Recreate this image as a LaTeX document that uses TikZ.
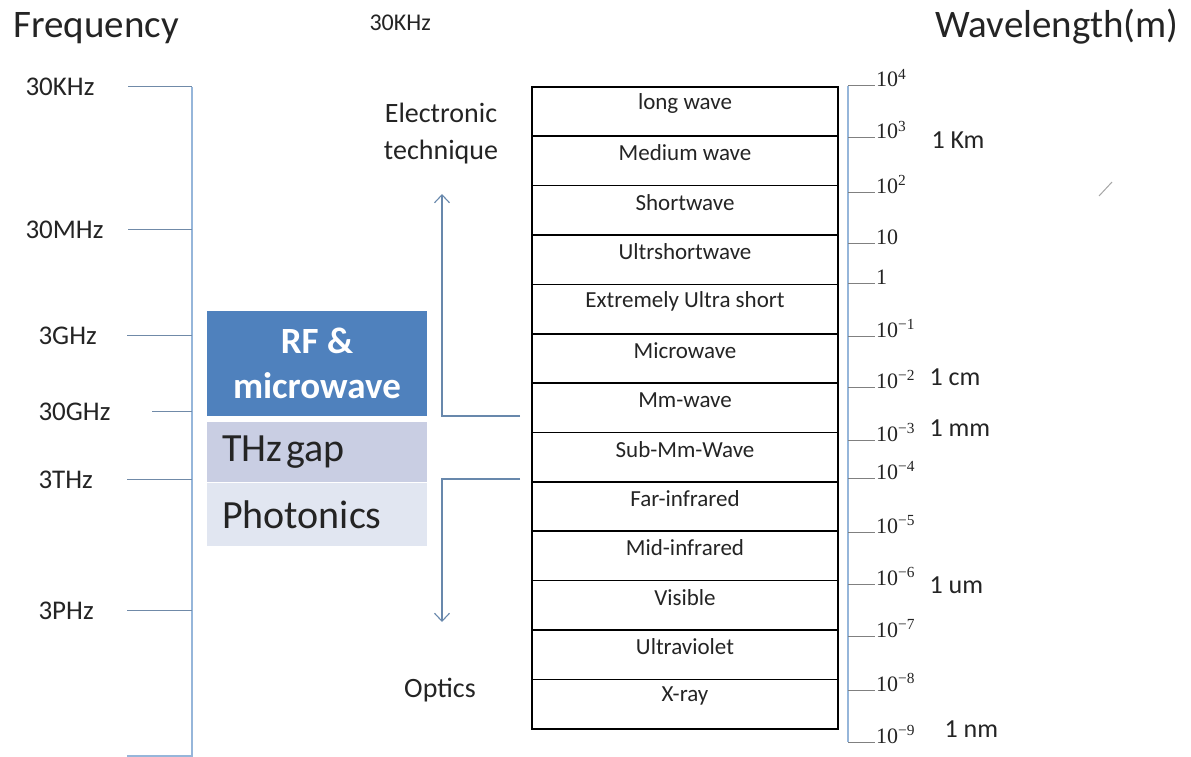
\documentclass[tikz,border=0pt]{standalone}
\usepackage{fontspec}
\setmainfont{Carlito}
\newfontfamily\expfont{Liberation Serif}
\usetikzlibrary{positioning,arrows.meta}
\definecolor{axisA}{RGB}{150,182,218}
\definecolor{tickA}{RGB}{112,138,168}
\definecolor{linkA}{RGB}{104,136,172}
\definecolor{rfblue}{RGB}{79,129,189}
\definecolor{gapfill}{RGB}{201,206,227}
\definecolor{photofill}{RGB}{225,230,241}
\definecolor{textA}{RGB}{36,36,36}
\newcommand\tenpow[1]{10\textsuperscript{#1}}

\tikzset{
  bigtitle/.style={font=\fontsize{39}{44}\selectfont},
  freqlabel/.style={anchor=base west, font=\fontsize{27}{30}\selectfont},
  freqtick/.style={tickA, line width=1pt},
  axisline/.style={axisA, line width=1.4pt},
  bandrow/.style={draw=black, line width=1.6pt, anchor=north, minimum width=306pt,
    minimum height=49.38pt, inner sep=0pt},
  bandtext/.style={yshift=8pt, font=\fontsize{23}{27}\selectfont},
  explabel/.style={anchor=base west, inner sep=1pt, font=\expfont\fontsize{22}{26}\selectfont},
  unitlabel/.style={anchor=west, font=\fontsize{26}{29}\selectfont},
  rangebox/.style={minimum width=220pt, inner sep=0pt, font=\fontsize{40}{44}\selectfont},
  linkline/.style={linkA, line width=1.1pt},
  sidetext/.style={align=center, font=\fontsize{28}{37}\selectfont}
}

\begin{document}
\begin{tikzpicture}[x=1pt, y=-1pt, text=textA]
  \useasboundingbox (0,0) rectangle (1191,757);

  % titles
  \node[bigtitle, anchor=base west] (freqtitle) at (10,38) {Frequency};
  \node[bigtitle, anchor=base east] (wavetitle) at (1182,38) {Wavelength(m)};
  \node[anchor=base west, font=\fontsize{24}{27}\selectfont] (toplabel) at (366,31) {30KHz};

  % frequency axis
  \coordinate (ftop) at (192,87);
  \coordinate (fbot) at (192,756);
  \draw[axisline] (ftop) -- (fbot) -- ++(-65,0);
  \foreach \y/\xs/\lx/\txt in {87/128/22/30KHz, 229/128/22/30MHz, 335/127/35/3GHz,
      411/152/35/30GHz, 479/127/35/3THz, 610/127/35/3PHz}
  {
    \node[freqlabel] (f\txt) at (\lx,\y+9) {\txt};
    \draw[freqtick] (\xs,\y) -- (ftop |- 0,\y);
  }

  % ranges
  \node[rangebox, fill=rfblue, minimum height=105pt, align=center, text=white,
    font=\bfseries\fontsize{37}{45}\selectfont] (rf) at (317,363.5) {RF \&\\microwave};
  \node[rangebox, fill=gapfill, minimum height=60pt, text width=190pt, align=left,
    below=6pt of rf] (thz) {THz\hspace{0.1em}gap};
  \node[rangebox, fill=photofill, minimum height=63pt, text width=190pt, align=left,
    below=0pt of thz] (photo) {Photonics};

  % band table
  \foreach \band [count=\i] in {long wave, Medium wave, Shortwave, Ultrshortwave,
      Extremely Ultra short, Microwave, Mm-wave, Sub-Mm-Wave, Far-infrared,
      Mid-infrared, Visible, Ultraviolet, X-ray}
    \node[bandrow, label={[bandtext]center:\band}] (band\i) at (685,{86+49.38*(\i-1)}) {};

  % wavelength axis
  \coordinate (wtop) at (848,86);
  \coordinate (wbot) at (848,742);
  \draw[axisline] (wtop) -- (wbot);
  \foreach \y/\e [count=\i] in {86/\tenpow{4}, 138/\tenpow{3}, 192/\tenpow{2}, 243/10, 283/1,
      336/\tenpow{\textminus1}, 387/\tenpow{\textminus2}, 440/\tenpow{\textminus3},
      478/\tenpow{\textminus4}, 532/\tenpow{\textminus5}, 584/\tenpow{\textminus6},
      636/\tenpow{\textminus7}, 690/\tenpow{\textminus8}, 742/\tenpow{\textminus9}}
  {
    \draw[freqtick, gray] (wtop |- 0,\y) -- (875,\y);
    \node[explabel] (w\i) at (875,\y+1) {\e};
  }
  \node[unitlabel] (km) at (928,140) {1 Km};
  \node[unitlabel] (cm) at (926,377) {1 cm};
  \node[unitlabel] (mm) at (926,428) {1 mm};
  \node[unitlabel] (um) at (926,585) {1 um};
  \node[unitlabel] (nm) at (941,729) {1 nm};

  % links to the table
  \node[sidetext] (elec) at (441,134) {Electronic\\technique};
  \node[sidetext] (optics) at (440,690) {Optics};
  \coordinate (rfjoin) at (520,416);
  \coordinate (rfcorner) at (442,416);
  \coordinate (rftip) at (442,194);
  \coordinate (opjoin) at (520,479);
  \coordinate (opcorner) at (442,479);
  \coordinate (optip) at (442,622);
  \draw[linkline, -{Straight Barb[length=8pt, width=15pt]}] (rfjoin) -- (rfcorner) -- (rftip);
  \draw[linkline, -{Straight Barb[length=8pt, width=15pt]}] (opjoin) -- (opcorner) -- (optip);

  % stray mark
  \draw[gray!70, line width=1pt] (1099,196) -- (1112,182);
\end{tikzpicture}
\end{document}
